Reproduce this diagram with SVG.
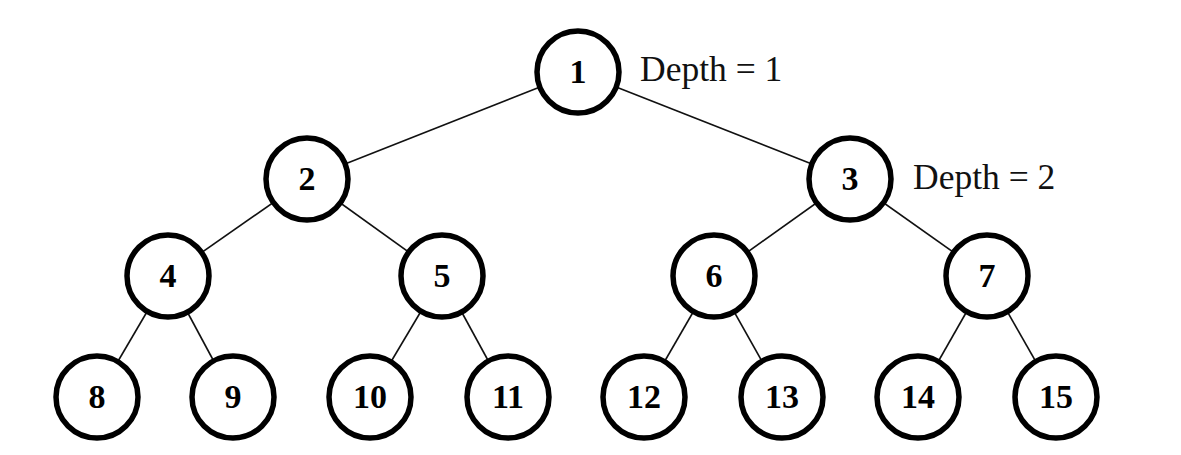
<svg xmlns="http://www.w3.org/2000/svg" width="1181" height="455" viewBox="0 0 1181 455">
<style>
.n circle{fill:#fff;stroke:#000;stroke-width:5.5}
.n text{font-family:"Liberation Serif","Times New Roman",serif;font-weight:bold;font-size:34px;text-anchor:middle;fill:#000}
.e line{stroke:#111;stroke-width:1.6}
.lbl{font-family:"Liberation Serif","Times New Roman",serif;font-size:35.5px;fill:#111}
</style>
<rect width="1181" height="455" fill="#fff"/>
<g id="connectors" class="e">
<line x1="578" y1="72" x2="307" y2="179"/>
<line x1="578" y1="72" x2="850" y2="179"/>
<line x1="307" y1="179" x2="168" y2="276"/>
<line x1="307" y1="179" x2="442" y2="276"/>
<line x1="850" y1="179" x2="714" y2="276"/>
<line x1="850" y1="179" x2="987" y2="276"/>
<line x1="168" y1="276" x2="97" y2="397"/>
<line x1="168" y1="276" x2="233" y2="397"/>
<line x1="442" y1="276" x2="370" y2="397"/>
<line x1="442" y1="276" x2="508" y2="397"/>
<line x1="714" y1="276" x2="644" y2="397"/>
<line x1="714" y1="276" x2="782" y2="397"/>
<line x1="987" y1="276" x2="918" y2="397"/>
<line x1="987" y1="276" x2="1056" y2="397"/>
</g>
<g id="n1" class="n"><circle cx="578" cy="72" r="41"/><text x="578" y="83">1</text></g>
<g id="n2" class="n"><circle cx="307" cy="179" r="41"/><text x="307" y="190">2</text></g>
<g id="n3" class="n"><circle cx="850" cy="179" r="41"/><text x="850" y="190">3</text></g>
<g id="n4" class="n"><circle cx="168" cy="276" r="41"/><text x="168" y="287">4</text></g>
<g id="n5" class="n"><circle cx="442" cy="276" r="41"/><text x="442" y="287">5</text></g>
<g id="n6" class="n"><circle cx="714" cy="276" r="41"/><text x="714" y="287">6</text></g>
<g id="n7" class="n"><circle cx="987" cy="276" r="41"/><text x="987" y="287">7</text></g>
<g id="n8" class="n"><circle cx="97" cy="397" r="41"/><text x="97" y="408">8</text></g>
<g id="n9" class="n"><circle cx="233" cy="397" r="41"/><text x="233" y="408">9</text></g>
<g id="n10" class="n"><circle cx="370" cy="397" r="41"/><text x="370" y="408">10</text></g>
<g id="n11" class="n"><circle cx="508" cy="397" r="41"/><text x="508" y="408">11</text></g>
<g id="n12" class="n"><circle cx="644" cy="397" r="41"/><text x="644" y="408">12</text></g>
<g id="n13" class="n"><circle cx="782" cy="397" r="41"/><text x="782" y="408">13</text></g>
<g id="n14" class="n"><circle cx="918" cy="397" r="41"/><text x="918" y="408">14</text></g>
<g id="n15" class="n"><circle cx="1056" cy="397" r="41"/><text x="1056" y="408">15</text></g>
<text class="lbl" x="640" y="81">Depth = 1</text>
<text class="lbl" x="913" y="189">Depth = 2</text>
</svg>
